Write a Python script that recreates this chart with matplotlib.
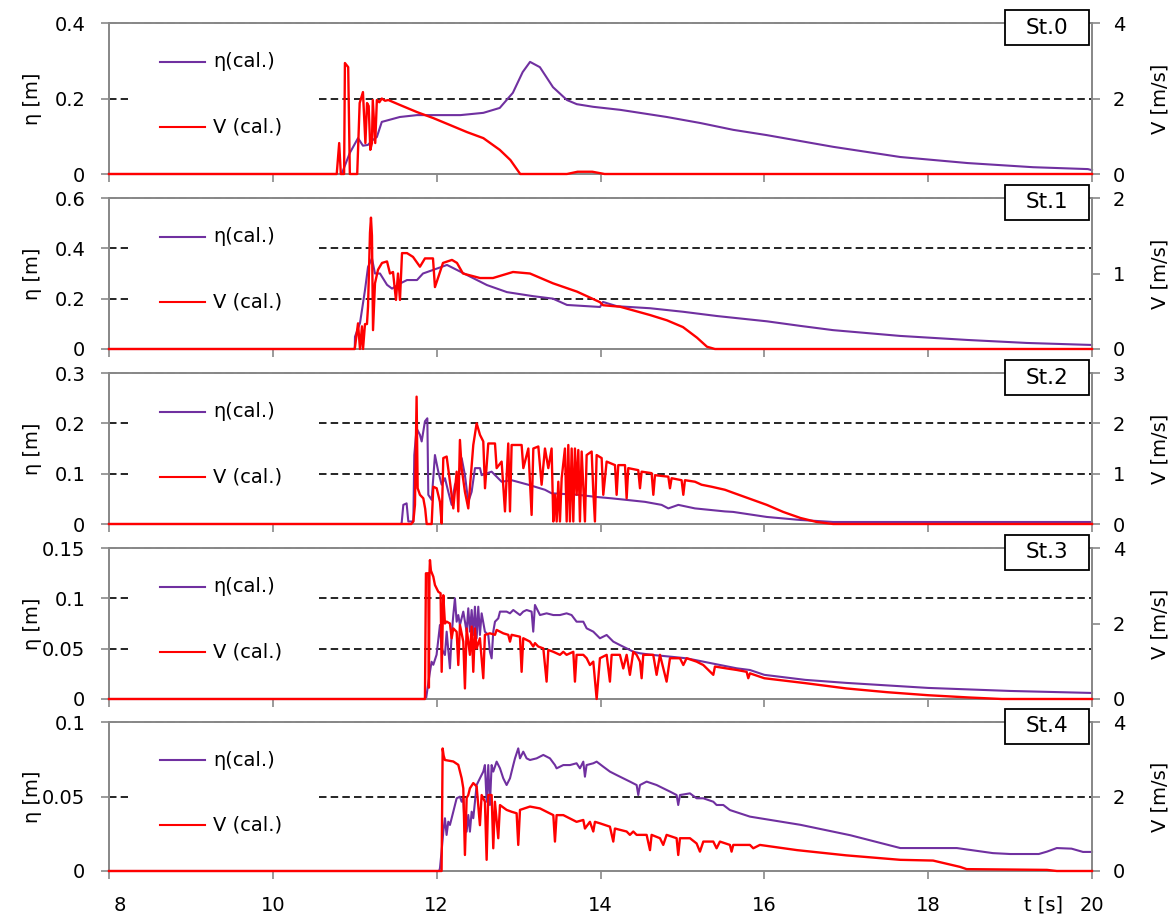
import matplotlib
matplotlib.use("Agg")
import matplotlib.pyplot as plt
from matplotlib.patches import Rectangle
from matplotlib.ticker import FuncFormatter
import matplotlib.transforms as mtransforms

plt.rcParams['font.family'] = ['DejaVu Sans']

# ---------------- data ----------------
stations = ["St.0", "St.1", "St.2", "St.3", "St.4"]
eta_max = [0.4, 0.6, 0.3, 0.15, 0.1]
eta_ticks = [[0, 0.2, 0.4], [0, 0.2, 0.4, 0.6], [0, 0.1, 0.2, 0.3],
             [0, 0.05, 0.1, 0.15], [0, 0.05, 0.1]]
v_max = [4, 2, 3, 4, 4]
v_ticks = [[0, 2, 4], [0, 1, 2], [0, 1, 2, 3], [0, 2, 4], [0, 2, 4]]
x_ticks = [8, 10, 12, 14, 16, 18, 20]

# St.0
t_eta0 = [8, 10.84, 10.94, 11.04, 11.10, 11.16, 11.22, 11.27, 11.33, 11.55, 11.76, 11.96, 12.29, 12.57,
          12.77, 12.93, 13.05, 13.14, 13.26, 13.42, 13.59, 13.71, 13.91, 14.24, 14.81, 15.22, 15.62,
          16.03, 16.84, 17.66, 18.48, 19.28, 19.95, 20]
eta0 = [0, 0, 0.056, 0.095, 0.075, 0.077, 0.09, 0.098, 0.138, 0.151, 0.156, 0.156, 0.156, 0.162,
        0.175, 0.215, 0.27, 0.297, 0.283, 0.23, 0.196, 0.185, 0.178, 0.17, 0.151, 0.135, 0.117,
        0.103, 0.072, 0.045, 0.029, 0.018, 0.013, 0.01]
t_v0 = [8, 10.78, 10.81, 10.83, 10.87, 10.88, 10.92, 10.94, 11.03, 11.06, 11.10, 11.13, 11.15, 11.17,
        11.19, 11.21, 11.22, 11.25, 11.27, 11.30, 11.33, 11.37, 11.41, 11.55, 11.76, 11.96, 12.16,
        12.37, 12.57, 12.77, 12.90, 13.02, 13.59, 13.72, 13.90, 14.05, 20]
v0 = [0, 0, 0.82, 0, 0, 2.94, 2.83, 0, 0, 1.88, 2.17, 0.82, 1.88, 1.80,
      0.64, 0.82, 1.96, 0.82, 1.96, 1.90, 2.0, 1.94, 1.96, 1.83, 1.64, 1.48, 1.30,
      1.11, 0.95, 0.64, 0.37, 0, 0, 0.06, 0.06, 0, 0]

# St.1
t_eta1 = [8, 11.0, 11.003, 11.064, 11.125, 11.162, 11.21, 11.247, 11.308, 11.394, 11.455, 11.552,
          11.638, 11.76, 11.833, 11.955, 12.126, 12.248, 12.37, 12.614, 12.858, 13.176, 13.42,
          13.591, 13.994, 14.03, 14.201, 14.604, 15.007, 15.422, 16.032, 16.435, 16.838, 17.656,
          18.474, 19.206, 20]
eta1 = [0, 0, 0.049, 0.103, 0.234, 0.326, 0.36, 0.30, 0.30, 0.255, 0.24, 0.26,
        0.274, 0.274, 0.30, 0.314, 0.334, 0.314, 0.294, 0.254, 0.226, 0.21, 0.20,
        0.175, 0.167, 0.187, 0.17, 0.162, 0.148, 0.131, 0.110, 0.092, 0.075, 0.052,
        0.036, 0.024, 0.016]
t_v1 = [8, 11.0, 11.04, 11.064, 11.088, 11.101, 11.125, 11.149, 11.162, 11.186, 11.198, 11.21,
        11.223, 11.247, 11.284, 11.333, 11.394, 11.43, 11.467, 11.503, 11.528, 11.552, 11.577,
        11.638, 11.711, 11.796, 11.857, 11.955, 11.979, 12.004, 12.077, 12.187, 12.248, 12.321,
        12.529, 12.687, 12.932, 13.139, 13.42, 13.713, 13.994, 14.03, 14.238, 14.604, 14.811,
        15.007, 15.178, 15.3, 15.397, 20]
v1 = [0, 0, 0.34, 0.0, 0.3, 0.0, 0.33, 0.33, 0.56, 1.54, 1.74, 1.5,
      0.25, 0.87, 1.05, 1.14, 1.16, 1.0, 1.02, 0.65, 1.0, 0.65, 1.27,
      1.27, 1.22, 1.09, 1.2, 1.2, 0.82, 0.9, 1.14, 1.18, 1.14, 1.0,
      0.94, 0.94, 1.02, 1.0, 0.87, 0.76, 0.62, 0.58, 0.56, 0.45, 0.38,
      0.29, 0.15, 0.03, 0, 0]

# St.2
t_eta2 = [8, 11.56, 11.572, 11.593, 11.633, 11.654, 11.715, 11.727, 11.755, 11.796, 11.817, 11.857,
          11.886, 11.898, 11.939, 11.979, 12.02, 12.061, 12.101, 12.142, 12.183, 12.223, 12.264,
          12.305, 12.345, 12.386, 12.427, 12.468, 12.529, 12.549, 12.671, 12.793, 12.915, 13.119,
          13.322, 13.403, 13.729, 13.932, 14.136, 14.543, 14.746, 14.828, 14.95, 15.153, 15.519,
          15.62, 16.03, 16.44, 16.84, 20]
eta2 = [0, 0, 0.001, 0.038, 0.041, 0.005, 0.005, 0.137, 0.19, 0.177, 0.164, 0.204,
        0.21, 0.058, 0.048, 0.137, 0.104, 0.078, 0.091, 0.064, 0.038, 0.078, 0.091,
        0.131, 0.097, 0.044, 0.064, 0.111, 0.111, 0.097, 0.104, 0.084, 0.087, 0.078,
        0.068, 0.061, 0.058, 0.054, 0.051, 0.044, 0.038, 0.031, 0.038, 0.031, 0.025,
        0.024, 0.014, 0.008, 0.004, 0.004]
t_v2 = [8, 11.69, 11.715, 11.735, 11.755, 11.768, 11.796, 11.837, 11.86, 11.878, 11.939, 11.959,
        12.0, 12.04, 12.061, 12.081, 12.122, 12.162, 12.203, 12.244, 12.264, 12.284, 12.305,
        12.345, 12.386, 12.447, 12.488, 12.529, 12.569, 12.59, 12.63, 12.712, 12.732, 12.793,
        12.834, 12.874, 12.895, 12.915, 13.037, 13.058, 13.119, 13.159, 13.18, 13.241, 13.281,
        13.322, 13.363, 13.403, 13.424, 13.444, 13.465, 13.485, 13.505, 13.526, 13.566, 13.587,
        13.607, 13.627, 13.648, 13.668, 13.688, 13.709, 13.729, 13.749, 13.77, 13.81, 13.831,
        13.892, 13.912, 13.932, 13.953, 14.014, 14.034, 14.075, 14.177, 14.197, 14.217, 14.299,
        14.319, 14.339, 14.461, 14.482, 14.502, 14.624, 14.645, 14.665, 14.828, 14.848, 14.868,
        14.99, 15.011, 15.031, 15.153, 15.234, 15.357, 15.519, 15.62, 16.03, 16.23, 16.44,
        16.64, 16.84, 20]
v2 = [0, 0, 0.05, 0.38, 2.53, 0.71, 0.58, 0.51, 0.3, 0, 0, 0.74,
      0.71, 0.44, 0.01, 1.31, 1.34, 0.84, 0.31, 1.04, 0.25, 1.67, 1.11,
      0.64, 0.31, 1.57, 2.0, 1.77, 1.64, 0.71, 1.60, 1.60, 1.11, 1.24,
      0.25, 1.60, 0.25, 1.57, 1.57, 1.11, 1.50, 0.18, 1.50, 1.54, 0.78,
      1.50, 1.11, 1.50, 0.05, 0.58, 0.05, 0.84, 0.05, 0.91, 1.50, 0.05,
      1.57, 0.05, 1.50, 0.05, 1.50, 0.58, 1.47, 0.05, 1.44, 0.05, 1.37,
      1.44, 0.64, 0.05, 1.37, 1.31, 0.58, 1.24, 1.17, 0.58, 1.17, 1.17,
      0.51, 1.11, 1.07, 0.71, 1.04, 1.01, 0.58, 0.97, 0.94, 0.71, 0.91,
      0.87, 0.58, 0.87, 0.84, 0.78, 0.74, 0.68, 0.62, 0.38, 0.24, 0.12,
      0.04, 0, 0]

# St.3
t_eta3 = [8, 11.87, 11.877, 11.918, 11.938, 11.959, 11.999, 12.04, 12.061, 12.101, 12.122, 12.162,
          12.183, 12.203, 12.223, 12.244, 12.264, 12.284, 12.325, 12.366, 12.386, 12.406, 12.427,
          12.447, 12.467, 12.488, 12.508, 12.528, 12.549, 12.589, 12.63, 12.65, 12.671, 12.691,
          12.712, 12.752, 12.773, 12.854, 12.895, 12.935, 13.017, 13.057, 13.098, 13.159, 13.179,
          13.2, 13.261, 13.342, 13.424, 13.505, 13.586, 13.647, 13.708, 13.79, 13.831, 13.912,
          13.993, 14.075, 14.156, 14.237, 14.319, 14.4, 14.482, 14.644, 14.848, 15.051, 15.255,
          15.458, 15.662, 15.824, 16.0, 16.5, 17.0, 18.0, 19.0, 20]
eta3 = [0, 0, 0.004, 0.027, 0.037, 0.034, 0.044, 0.0735, 0.050, 0.0437, 0.0669, 0.0305,
        0.0636, 0.0834, 0.100, 0.0768, 0.0834, 0.0735, 0.0868, 0.0669, 0.0901, 0.0669, 0.0884,
        0.0636, 0.0917, 0.0603, 0.0917, 0.0636, 0.0851, 0.0669, 0.0636, 0.047, 0.0404, 0.0669,
        0.0768, 0.0801, 0.0868, 0.0868, 0.0851, 0.0884, 0.0834, 0.0868, 0.0884, 0.0868, 0.0669,
        0.0934, 0.0834, 0.0851, 0.0834, 0.0834, 0.0851, 0.0834, 0.0768, 0.0768, 0.0702, 0.0669,
        0.0603, 0.0636, 0.057, 0.0536, 0.0503, 0.047, 0.0454, 0.0437, 0.0421, 0.0404, 0.0371,
        0.0338, 0.0305, 0.0288, 0.024, 0.019, 0.016, 0.011, 0.008, 0.006]
t_v3 = [8, 11.857, 11.869, 11.898, 11.905, 11.912, 11.918, 11.93, 11.959, 11.979, 12.02, 12.048,
        12.061, 12.081, 12.101, 12.122, 12.162, 12.183, 12.203, 12.244, 12.264, 12.284, 12.325,
        12.345, 12.366, 12.406, 12.427, 12.447, 12.467, 12.488, 12.528, 12.569, 12.589, 12.65,
        12.712, 12.732, 12.813, 12.874, 12.895, 12.915, 13.017, 13.037, 13.057, 13.139, 13.179,
        13.2, 13.24, 13.302, 13.342, 13.363, 13.424, 13.505, 13.546, 13.586, 13.668, 13.688,
        13.708, 13.79, 13.831, 13.871, 13.912, 13.953, 13.993, 14.075, 14.115, 14.136, 14.237,
        14.278, 14.319, 14.359, 14.4, 14.441, 14.482, 14.502, 14.522, 14.644, 14.685, 14.726,
        14.807, 14.848, 14.97, 15.011, 15.051, 15.173, 15.255, 15.377, 15.397, 15.539, 15.662,
        15.784, 15.804, 15.824, 16.0, 16.5, 17.0, 17.5, 18.0, 18.5, 18.9, 20]
v3 = [0, 0, 3.33, 3.33, 0.3, 3.3, 3.68, 3.4, 3.24, 3.02, 2.84, 2.8,
      0.72, 2.75, 2.0, 2.05, 2.0, 1.61, 1.87, 1.78, 0.9, 1.96, 1.52,
      0.28, 1.87, 1.17, 1.92, 0.72, 1.87, 1.34, 1.61, 0.55, 1.70, 1.74,
      1.70, 1.83, 1.74, 1.70, 1.52, 1.70, 1.65, 0.72, 1.61, 1.52, 1.39,
      1.48, 1.39, 1.34, 0.46, 1.30, 1.25, 1.17, 1.25, 1.17, 1.25, 0.46,
      1.17, 1.17, 1.08, 0.90, 0.99, 0.0, 1.08, 1.17, 0.46, 1.17, 1.17,
      0.81, 1.17, 0.64, 1.25, 1.17, 0.99, 0.55, 1.17, 1.17, 0.64, 1.17,
      0.46, 1.08, 1.08, 0.90, 1.08, 0.99, 0.90, 0.64, 0.86, 0.81, 0.77,
      0.72, 0.55, 0.68, 0.55, 0.42, 0.28, 0.18, 0.10, 0.04, 0.0, 0]

# St.4
t_eta4 = [8, 12.03, 12.04, 12.06, 12.081, 12.101, 12.121, 12.142, 12.162, 12.203, 12.244, 12.284,
          12.305, 12.325, 12.345, 12.366, 12.386, 12.406, 12.427, 12.447, 12.488, 12.528, 12.569,
          12.589, 12.61, 12.63, 12.65, 12.671, 12.691, 12.732, 12.773, 12.813, 12.854, 12.895,
          12.935, 12.956, 12.996, 13.017, 13.057, 13.098, 13.139, 13.22, 13.302, 13.383, 13.444,
          13.464, 13.546, 13.627, 13.708, 13.749, 13.79, 13.81, 13.83, 13.912, 13.953, 14.034,
          14.115, 14.197, 14.278, 14.359, 14.441, 14.461, 14.482, 14.563, 14.685, 14.766, 14.848,
          14.929, 14.949, 14.97, 15.092, 15.173, 15.255, 15.377, 15.417, 15.499, 15.58, 15.702,
          15.824, 15.946, 16.44, 17.05, 17.66, 18.35, 18.79, 19.0, 19.35, 19.45, 19.57, 19.75,
          19.89, 20]
eta4 = [0, 0, 0.0018, 0.013, 0.0264, 0.0354, 0.0242, 0.0331, 0.0309, 0.0398, 0.0488, 0.0499,
        0.0465, 0.0488, 0.0264, 0.0264, 0.0376, 0.0264, 0.0398, 0.0354, 0.0577, 0.0622, 0.0667,
        0.0711, 0.0465, 0.0711, 0.0443, 0.0711, 0.0667, 0.0734, 0.0689, 0.0622, 0.0577, 0.0622,
        0.0711, 0.0756, 0.0823, 0.0756, 0.0801, 0.0756, 0.0745, 0.0756, 0.0779, 0.0756, 0.0711,
        0.0689, 0.0711, 0.0711, 0.0723, 0.0689, 0.0734, 0.0633, 0.0711, 0.0723, 0.0734, 0.070,
        0.0667, 0.0644, 0.0622, 0.060, 0.0577, 0.051, 0.0577, 0.060, 0.0577, 0.0555, 0.0533,
        0.051, 0.0443, 0.051, 0.0521, 0.0488, 0.0488, 0.0465, 0.0443, 0.0443, 0.0409, 0.0387,
        0.0365, 0.0354, 0.031, 0.024, 0.0154, 0.0154, 0.012, 0.0114, 0.0114, 0.013, 0.0154, 0.015,
        0.0128, 0.0128]
t_v4 = [8, 12.06, 12.073, 12.085, 12.101, 12.203, 12.264, 12.305, 12.325, 12.345, 12.366, 12.386,
        12.406, 12.447, 12.488, 12.528, 12.549, 12.589, 12.61, 12.63, 12.671, 12.691, 12.711,
        12.752, 12.773, 12.854, 12.915, 12.976, 12.996, 13.017, 13.139, 13.261, 13.342, 13.424,
        13.444, 13.464, 13.546, 13.627, 13.708, 13.79, 13.81, 13.871, 13.912, 13.932, 13.993,
        14.115, 14.156, 14.176, 14.319, 14.359, 14.4, 14.441, 14.563, 14.604, 14.624, 14.726,
        14.766, 14.807, 14.929, 14.949, 14.97, 15.092, 15.173, 15.214, 15.255, 15.377, 15.417,
        15.458, 15.58, 15.6, 15.621, 15.824, 15.865, 15.946, 16.4, 17.0, 17.66, 18.06, 18.39,
        18.47, 19.45, 19.57, 20]
v4 = [0, 0, 3.29, 3.1, 2.98, 2.94, 2.85, 2.49, 2.22, 0.43, 1.96, 2.04,
      2.22, 2.36, 2.27, 1.23, 2.04, 1.86, 0.30, 2.04, 2.04, 0.61, 1.86,
      0.88, 1.77, 1.64, 1.59, 1.55, 0.70, 1.64, 1.73, 1.68, 1.59, 1.50,
      0.79, 1.50, 1.50, 1.41, 1.32, 1.37, 1.14, 1.32, 1.06, 1.32, 1.28,
      1.19, 0.79, 1.14, 1.06, 0.97, 1.06, 0.97, 0.97, 0.56, 0.97, 0.88,
      0.70, 0.97, 0.88, 0.43, 0.88, 0.88, 0.74, 0.52, 0.79, 0.79, 0.61,
      0.79, 0.70, 0.52, 0.70, 0.70, 0.61, 0.70, 0.56, 0.42, 0.30, 0.28, 0.11,
      0.05, 0.03, 0.0, 0]

t_eta = [t_eta0, t_eta1, t_eta2, t_eta3, t_eta4]
etas = [eta0, eta1, eta2, eta3, eta4]
t_v = [t_v0, t_v1, t_v2, t_v3, t_v4]
vs = [v0, v1, v2, v3, v4]

# ---------------- figure ----------------
W, H = 1172, 919
fig = plt.figure(figsize=(W / 100, H / 100), dpi=100)

left_px, right_px = 109, 1092
panel_px = [(23, 174), (198, 349), (373, 524), (548, 699), (722, 871)]
PURPLE = '#7030A0'
RED = '#FF0000'
GRAY = '#898989'
FS = 14

fmt = FuncFormatter(lambda v, p: '{:g}'.format(round(v, 4)))

for i in range(5):
    top, bot = panel_px[i]
    ax = fig.add_axes([left_px / W, 1 - bot / H, (right_px - left_px) / W, (bot - top) / H])
    ax2 = ax.twinx()
    ax.set_xlim(8, 20)
    ax.set_ylim(0, eta_max[i])
    ax2.set_ylim(0, v_max[i])
    ax.set_xticks(x_ticks)
    ax.set_yticks(eta_ticks[i])
    ax2.set_yticks(v_ticks[i])
    ax.yaxis.set_major_formatter(fmt)
    ax2.yaxis.set_major_formatter(fmt)

    for a in (ax, ax2):
        for s in a.spines.values():
            s.set_color(GRAY)
            s.set_linewidth(1.3)
        a.tick_params(axis='both', direction='out', length=6, width=1.2, color=GRAY,
                      labelsize=FS, colors=GRAY, labelcolor='black')
    ax.tick_params(axis='y', pad=11)
    ax2.tick_params(axis='y', pad=9)
    ax.tick_params(axis='x', pad=12)
    ax2.tick_params(axis='x', bottom=False, labelbottom=False)
    if i < 4:
        ax.tick_params(axis='x', labelbottom=False)
    else:
        lbl0 = ax.get_xticklabels()[0]
        lbl0.set_horizontalalignment('left')
        lbl0.set_transform(lbl0.get_transform() +
                           mtransforms.ScaledTranslation(5 / 100, 0, fig.dpi_scale_trans))

    # gridlines (dashed) at each η tick above zero
    for yv in eta_ticks[i][1:]:
        ax.axhline(yv, color='black', lw=1.2, ls=(0, (4.5, 2.5)), zorder=1, clip_on=False)

    # legend area
    ax.add_patch(Rectangle((0.019, 0.1), 0.194, 0.8, transform=ax.transAxes,
                           fc='white', ec='none', zorder=2))
    ax.plot([0.052, 0.098], [0.742, 0.742], color=PURPLE, lw=1.5, transform=ax.transAxes, zorder=3)
    ax.plot([0.052, 0.098], [0.311, 0.311], color=RED, lw=1.5, transform=ax.transAxes, zorder=3)
    ax.text(0.106, 0.742, 'η(cal.)', transform=ax.transAxes, fontsize=FS, va='center', ha='left', zorder=3)
    ax.text(0.106, 0.311, 'V (cal.)', transform=ax.transAxes, fontsize=FS, va='center', ha='left', zorder=3)

    # data
    ax.plot(t_eta[i], etas[i], color=PURPLE, lw=1.5, zorder=4, clip_on=False)
    ax2.plot(t_v[i], vs[i], color=RED, lw=1.7, zorder=4, clip_on=False)

    # axis labels
    ax.set_ylabel('η [m]', fontsize=FS)
    ax.yaxis.set_label_coords(-0.068, 0.5)
    ax2.set_ylabel('V [m/s]', fontsize=FS)
    ax2.yaxis.set_label_coords(1.060, 0.5)

    # station label box
    h = bot - top
    y0 = 1 - 22 / h
    hh = 35 / h
    ax2.add_patch(Rectangle((0.9115, y0), 0.0855, hh, transform=ax2.transAxes,
                            fc='white', ec='black', lw=1.3, zorder=10, clip_on=False))
    ax2.text(0.9115 + 0.0855 / 2, y0 + hh / 2, stations[i], transform=ax2.transAxes,
             fontsize=15.5, ha='center', va='center', zorder=11)

fig.text(1044 / W, 1 - 905 / H, 't [s]', fontsize=FS, ha='center', va='center')

fig.savefig('out.png', dpi=100)
